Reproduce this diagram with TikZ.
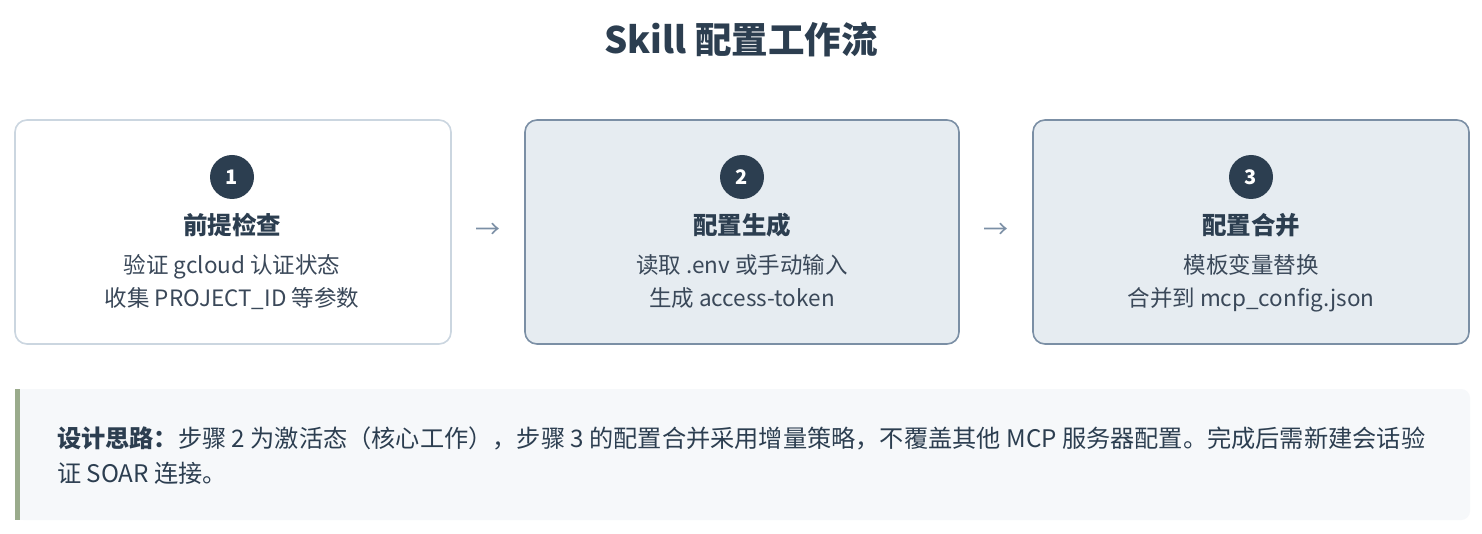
\documentclass[tikz,border=0pt]{standalone}
\usepackage{fontspec}
\setmainfont{Noto Sans CJK SC}
\begin{document}
\begin{tikzpicture}[x=1pt,y=-1pt,
  every node/.style={inner sep=0pt,outer sep=0pt},
  plainbox/.style={draw=boxlight,line width=1.6pt,fill=white,rounded corners=12pt,minimum height=224pt},
  activebox/.style={draw=boxdark,line width=1.6pt,fill=boxfill,rounded corners=12pt,minimum height=224pt},
  numdot/.style={circle,fill=ink,minimum size=44pt,text=white,font=\fontsize{20}{24}\selectfont\bfseries},
  steptitle/.style={anchor=base,text=ink,font=\fontsize{24.5}{28}\selectfont\bfseries},
  stepline/.style={anchor=base,text=bodyink,font=\fontsize{22.5}{26}\selectfont},
  arrowglyph/.style={text=boxdark,font=\fontsize{25}{28}\selectfont},
  noteline/.style={anchor=base west,text=ink,font=\fontsize{24.2}{28}\selectfont}]
\definecolor{ink}{HTML}{2C3E50}
\definecolor{bodyink}{HTML}{3A4859}
\definecolor{boxlight}{HTML}{CBD6E0}
\definecolor{boxdark}{HTML}{7B8FA5}
\definecolor{boxfill}{HTML}{E6ECF1}
\definecolor{notefill}{HTML}{F6F8FA}
\definecolor{notebar}{HTML}{9AAB8C}
\useasboundingbox (0,0) rectangle (1482,534);
\fill[white] (0,0) rectangle (1482,534);
% title
\node[anchor=base,text=ink,font=\fontsize{36.5}{40}\selectfont\bfseries] (title) at (741,54) {Skill 配置工作流};
% boxes
\node[plainbox,minimum width=436pt] (s1) at (233,232) {};
\node[activebox,minimum width=434pt] (s2) at (742,232) {};
\node[activebox,minimum width=436pt] (s3) at (1251,232) {};
% numbers
\node[numdot] (n1) at (232,177) {1};
\node[numdot] (n2) at (742,177) {2};
\node[numdot] (n3) at (1251,177) {3};
% step titles
\node[steptitle] (h1) at (232,235) {前提检查};
\node[steptitle] (h2) at (742,235) {配置生成};
\node[steptitle] (h3) at (1251,235) {配置合并};
% step texts
\node[stepline] (a1) at (232,274) {验证 gcloud 认证状态};
\node[stepline] (b1) at (232,307) {收集 PROJECT\_ID 等参数};
\node[stepline] (a2) at (742,274) {读取 .env 或手动输入};
\node[stepline] (b2) at (742,307) {生成 access-token};
\node[stepline] (a3) at (1251,274) {模板变量替换};
\node[stepline] (b3) at (1251,307) {合并到 mcp\_config.json};
% arrows
\node[arrowglyph] (r1) at (488,231) {→};
\node[arrowglyph] (r2) at (996,231) {→};
% note
\fill[notefill,rounded corners=9pt] (15,389) rectangle (1470,520);
\fill[notefill] (15,389) rectangle (30,520);
\fill[notebar] (15,389) rectangle (20,520);
\node[noteline] (m1) at (57,447) {\textbf{设计思路：}步骤 2 为激活态（核心工作），步骤 3 的配置合并采用增量策略，不覆盖其他 MCP 服务器配置。完成后需新建会话验};
\node[noteline] (m2) at (57,482) {证 SOAR 连接。};
\end{tikzpicture}
\end{document}
